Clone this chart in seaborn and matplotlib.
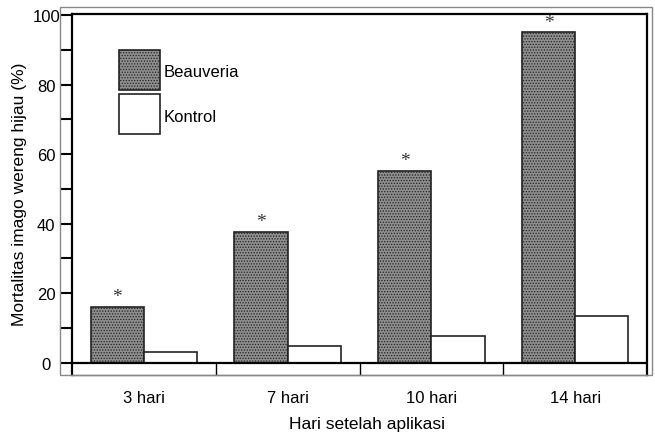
import matplotlib
matplotlib.use("Agg")
import matplotlib.pyplot as plt
import matplotlib.patches as mpatches
from matplotlib.ticker import MultipleLocator
import seaborn as sns
import pandas as pd

# data
hari = ["3 hari", "7 hari", "10 hari", "14 hari"]
beauveria = [16.1, 37.6, 55.2, 95.0]
kontrol = [3.2, 4.9, 7.6, 13.6]

df = pd.DataFrame({
    "hari": hari * 2,
    "mortalitas": beauveria + kontrol,
    "perlakuan": ["Beauveria"] * 4 + ["Kontrol"] * 4,
})

sns.set_style("white")
plt.rcParams["font.family"] = ["Liberation Sans", "DejaVu Sans"]
plt.rcParams["hatch.linewidth"] = 0.6
plt.rcParams["text.color"] = "black"
plt.rcParams["xtick.labelcolor"] = "black"
plt.rcParams["ytick.labelcolor"] = "black"

W, H = 655, 439
fig = plt.figure(figsize=(W / 100, H / 100), dpi=100)

def fx(px):
    return px / W

def fy(py):
    return 1 - py / H

ax = fig.add_axes([fx(72), fy(376), fx(647) - fx(72), fy(15) - fy(376)])

grey = "#8e8e8e"
pal = {"Beauveria": grey, "Kontrol": "white"}
sns.barplot(data=df, x="hari", y="mortalitas", hue="perlakuan", palette=pal,
            width=0.74, gap=0, edgecolor="#222222", linewidth=1.2,
            legend=False, ax=ax)

# dotted texture on the Beauveria bars
for bar in ax.patches[:len(hari)]:
    bar.set_hatch("......")

ax.set_xlim(-0.5, len(hari) - 0.5)
ax.set_ylim(-3.5, 100.3)

# zero line and category dividers in the bottom band
ax.axhline(0, color="black", lw=1.6, zorder=3)
for i in range(1, len(hari)):
    ax.plot([i - 0.5, i - 0.5], [-3.5, 0], color="black", lw=1.0)

for side in ["left", "top", "right"]:
    ax.spines[side].set_color("black")
    ax.spines[side].set_linewidth(1.6)
ax.spines["bottom"].set_color("#777777")
ax.spines["bottom"].set_linewidth(1.0)

ax.yaxis.set_major_locator(MultipleLocator(20))
ax.yaxis.set_minor_locator(MultipleLocator(10))
ax.tick_params(axis="y", which="both", direction="out", length=8, width=1.5,
               color="black", pad=10.5, labelsize=12, left=True)
for lab in ax.get_yticklabels():
    lab.set_horizontalalignment("center")
ax.tick_params(axis="x", length=0, pad=11, labelsize=12)
ax.set_xlabel("")
ax.set_ylabel("")

# asterisks above Beauveria bars
for i, v in enumerate(beauveria):
    ax.annotate("*", (i - 0.185, v), xytext=(0, 7.5), textcoords="offset points",
                ha="center", va="center", fontsize=14, family="Liberation Serif",
                color="#333333")

# outer gray frame
frame = mpatches.Rectangle((fx(60), fy(376)), fx(652) - fx(60), fy(8) - fy(376),
                           transform=fig.transFigure, fill=False,
                           edgecolor="#888888", lw=1.0)
fig.patches.append(frame)

# legend boxes
labels = ["Beauveria", "Kontrol"]
colours = [grey, "white"]
hatches = ["......", None]
tops = [51, 95]
for lab, col, hat, top in zip(labels, colours, hatches, tops):
    box = mpatches.Rectangle((fx(119), fy(top + 40)), fx(160) - fx(119),
                             fy(top) - fy(top + 40), transform=fig.transFigure,
                             facecolor=col, edgecolor="#222222", lw=1.2,
                             hatch=hat)
    fig.patches.append(box)
    fig.text(fx(164), fy(top + 22), lab, ha="left", va="center", fontsize=12)

fig.text(fx(367), fy(425), "Hari setelah aplikasi", ha="center", va="center",
         fontsize=12.5)
fig.text(fx(20), fy(194), "Mortalitas imago wereng hijau (%)", ha="center",
         va="center", rotation=90, fontsize=12.5)

fig.savefig("out.png", dpi=100)
